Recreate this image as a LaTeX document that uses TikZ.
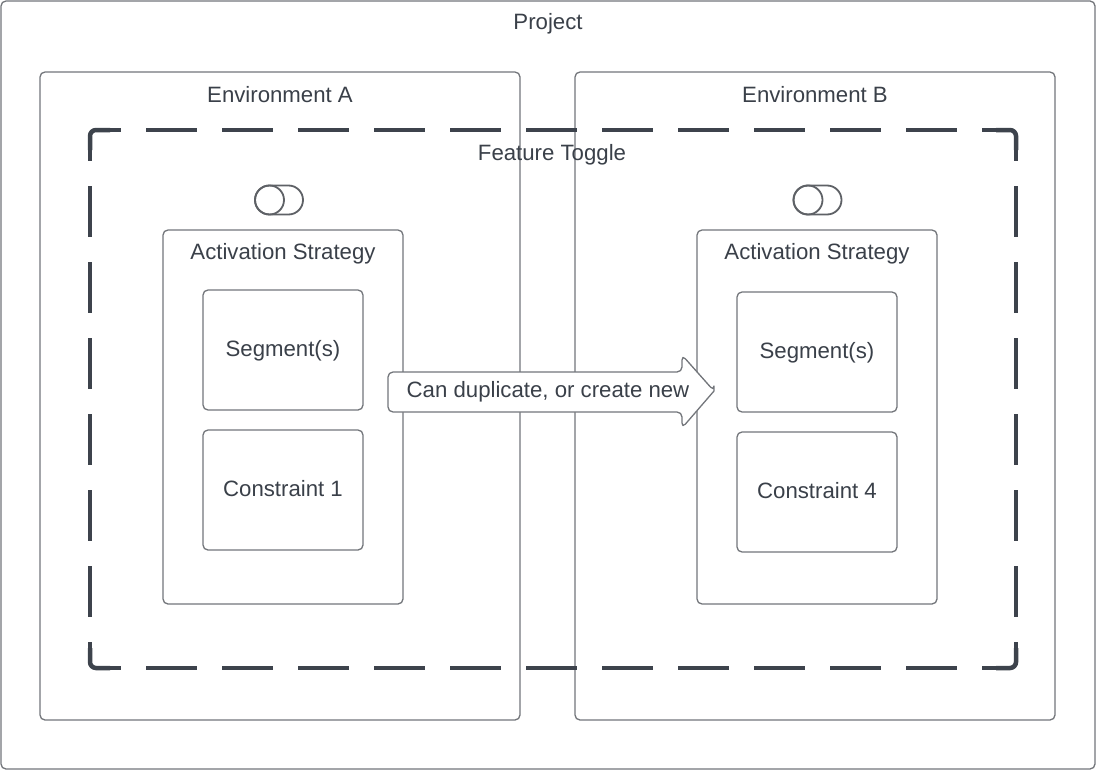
\documentclass[tikz,border=0pt]{standalone}
\usepackage{fontspec}
\setmainfont{Liberation Sans}
\begin{document}
\begin{tikzpicture}[x=1pt,y=-1pt,
  box/.style={draw=boxgray,line width=1.3pt,rounded corners=5pt,fill=none},
  lbl/.style={text=txt,font=\fontsize{22.2}{26}\selectfont,anchor=base,inner sep=0pt},
  dsh/.style={draw=dashc,line width=4.5pt,dash pattern=on 51pt off 25pt,dash phase=30pt},
  crn/.style={draw=dashc,line width=4.5pt,rounded corners=6pt},
  tog/.style={draw=toggray,line width=1.8pt},
]
\definecolor{boxgray}{HTML}{73767B}
\definecolor{txt}{HTML}{3A4049}
\definecolor{dashc}{HTML}{3D434C}
\definecolor{toggray}{HTML}{5E6166}
\useasboundingbox (0,0) rectangle (1096,771);
\fill[white] (0,0) rectangle (1096,771);

% Project
\draw[box] (1,1) rectangle (1095,769);
\node[lbl] (tproject) at (548,29) {Project};

% Environments
\draw[box] (40,72) rectangle (520,720);
\node[lbl] (tenva) at (280,102) {Environment A};
\draw[box] (575,72) rectangle (1055,720);
\node[lbl] (tenvb) at (815,102) {Environment B};

% Feature toggle dashed frame
\coordinate (tl) at (90,130);
\coordinate (tr) at (1016,130);
\coordinate (bl) at (90,668);
\coordinate (br) at (1016,668);
\draw[dsh] ([xshift=10pt]tl) -- ([xshift=-10pt]tr);
\draw[dsh] ([yshift=-10pt]tl) -- ([yshift=10pt]bl);
\draw[dsh] ([xshift=10pt]bl) -- ([xshift=-10pt]br);
\draw[dsh] ([yshift=-10pt]tr) -- ([yshift=10pt]br);
\draw[crn] (90,150) -- (tl) -- (110,130);
\draw[crn] (996,130) -- (tr) -- (1016,150);
\draw[crn] (90,648) -- (bl) -- (110,668);
\draw[crn] (996,668) -- (br) -- (1016,648);
\node[lbl] (tft) at (552,160) {Feature Toggle};

% Toggles
\node[tog,rounded corners=14.5pt,minimum width=48pt,minimum height=29pt,inner sep=0pt] (toga) at (279,200) {};
\node[tog,circle,minimum size=29pt,inner sep=0pt] (knoba) at (269.5,200) {};
\node[tog,rounded corners=14.5pt,minimum width=48pt,minimum height=29pt,inner sep=0pt] (togb) at (817.5,200) {};
\node[tog,circle,minimum size=29pt,inner sep=0pt] (knobb) at (808,200) {};

% Strategy A
\draw[box] (163,230) rectangle (403,604);
\node[lbl] (tsa) at (283,259) {Activation Strategy};
\draw[box] (203,290) rectangle (363,410);
\node[lbl] (tsega) at (283,356) {Segment(s)};
\draw[box] (203,430) rectangle (363,550);
\node[lbl] (tca) at (283,496) {Constraint 1};

% Strategy B
\draw[box] (697,230) rectangle (937,604);
\node[lbl] (tsb) at (817,259) {Activation Strategy};
\draw[box] (737,292) rectangle (897,412);
\node[lbl] (tsegb) at (817,358) {Segment(s)};
\draw[box] (737,432) rectangle (897,552);
\node[lbl] (tcb) at (817,498) {Constraint 4};

% Arrow
\draw[draw=boxgray,line width=1.3pt,fill=white,rounded corners=5pt,line join=round]
  (388,372) -- (682,372) -- (682,355) -- (714,391) [sharp corners] -- (714,391) [rounded corners=5pt] -- (682,428) -- (682,412) -- (388,412) -- cycle;
\node[lbl] (tarrow) at (548,397) {Can duplicate, or create new};
\end{tikzpicture}
\end{document}
